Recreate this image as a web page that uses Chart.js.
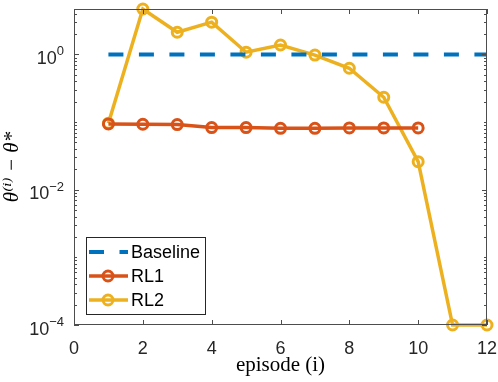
<!DOCTYPE html>
<html>
<head>
<meta charset="utf-8">
<script src="https://cdn.jsdelivr.net/npm/chart.js@4.4.1/dist/chart.umd.min.js"></script>
<style>
  html, body { margin: 0; padding: 0; background: #fff; }
  #wrap { width: 498px; height: 382px; }
</style>
</head>
<body>
<div id="wrap"><canvas id="chart"></canvas></div>
<script>
// values
var episodes = [1, 2, 3, 4, 5, 6, 7, 8, 9, 10, 11, 12];
var baselineX = [1, 12];
var baselineY = [1, 1];
var rl1Values = [0.094, 0.093, 0.092, 0.083, 0.083, 0.081, 0.081, 0.082, 0.082, 0.082];
var rl2Values = [0.096, 4.7, 2.13, 3.0, 1.08, 1.38, 0.98, 0.625, 0.233, 0.026, 1e-4, 1e-4];
var xTicks = [0, 2, 4, 6, 8, 10, 12];
var yTicks = [1e-4, 1e-2, 1];
var yMin = 1e-4, yMax = 4.7;

var blue = '#0072BD', red = '#D95319', gold = '#EDB120';
var axisColor = '#4d4d4d';
var sans = "'Liberation Sans', Arial, sans-serif";
var serif = "'Liberation Serif', 'DejaVu Serif', serif";

function pts(xs, ys) {
    return ys.map(function(v, i) { return { x: xs[i], y: v }; });
}

// box, inward ticks on all four sides, y labels with exponents, legend
var axesPlugin = {
    id: 'matlabAxes',
    afterDraw: function(chart) {
        var ctx = chart.ctx, a = chart.chartArea;
        var xs = chart.scales.x, ys = chart.scales.y;
        ctx.save();
        ctx.strokeStyle = axisColor;
        ctx.lineWidth = 1;
        ctx.strokeRect(a.left + 0.5, a.top + 0.5, a.right - a.left - 1, a.bottom - a.top - 1);
        ctx.beginPath();
        xTicks.forEach(function(t) {
            var px = Math.round(xs.getPixelForValue(t)) + 0.5;
            ctx.moveTo(px, a.bottom); ctx.lineTo(px, a.bottom - 5);
            ctx.moveTo(px, a.top); ctx.lineTo(px, a.top + 5);
        });
        for (var d = -4; d <= 0; d++) {
            for (var k = 1; k <= 9; k++) {
                var v = k * Math.pow(10, d);
                if (v < yMin || v > yMax) continue;
                var py = Math.round(ys.getPixelForValue(v)) + 0.5;
                var len = (k === 1 && d % 2 === 0) ? 5 : 3;
                ctx.moveTo(a.left, py); ctx.lineTo(a.left + len, py);
                ctx.moveTo(a.right, py); ctx.lineTo(a.right - len, py);
            }
        }
        ctx.stroke();

        // y tick labels 10^k
        ctx.fillStyle = '#262626';
        ctx.textBaseline = 'alphabetic';
        ctx.textAlign = 'left';
        yTicks.forEach(function(t) {
            var py = ys.getPixelForValue(t);
            var exp = String(Math.round(Math.log10(t))).replace('-', '\u2212');
            ctx.font = '13px ' + sans;
            var ew = ctx.measureText(exp).width;
            ctx.font = '18px ' + sans;
            var bw = ctx.measureText('10').width;
            var right = a.left - 10;
            ctx.fillText('10', right - ew - bw, py + 9.5);
            ctx.font = '13px ' + sans;
            ctx.fillText(exp, right - ew, py + 1);
        });

        // legend box in lower left
        var lx = 86, ly = 237, lw = 119, lh = 77;
        ctx.fillStyle = '#fff';
        ctx.fillRect(lx, ly, lw, lh);
        ctx.strokeStyle = '#262626';
        ctx.lineWidth = 1;
        ctx.strokeRect(lx + 0.5, ly + 0.5, lw, lh);
        chart.data.datasets.forEach(function(ds, i) {
            var cy = ly + 15 + i * 24;
            ctx.strokeStyle = ds.borderColor;
            ctx.lineWidth = ds.borderWidth;
            ctx.setLineDash(ds.borderDash || []);
            ctx.beginPath();
            ctx.moveTo(lx + 3, cy); ctx.lineTo(lx + 42, cy);
            ctx.stroke();
            ctx.setLineDash([]);
            if (ds.pointRadius > 0) {
                ctx.lineWidth = ds.pointBorderWidth;
                ctx.beginPath();
                ctx.arc(lx + 22, cy, ds.pointRadius, 0, Math.PI * 2);
                ctx.stroke();
            }
            ctx.fillStyle = '#000';
            ctx.font = '18px ' + sans;
            ctx.textBaseline = 'middle';
            ctx.fillText(ds.label, lx + 45, cy + 1);
        });
        ctx.restore();
    }
};

new Chart(document.getElementById('chart'), {
    type: 'line',
    data: {
        datasets: [{
            label: 'Baseline',
            data: pts(baselineX, baselineY),
            borderColor: blue,
            borderWidth: 4,
            borderDash: [15, 15.5],
            pointRadius: 0,
            clip: false
        }, {
            label: 'RL1',
            data: pts(episodes, rl1Values),
            borderColor: red,
            borderWidth: 3.5,
            pointRadius: 5,
            pointBorderWidth: 3,
            pointBorderColor: red,
            pointBackgroundColor: 'rgba(0,0,0,0)',
            clip: false
        }, {
            label: 'RL2',
            data: pts(episodes, rl2Values),
            borderColor: gold,
            borderWidth: 3.5,
            pointRadius: 5,
            pointBorderWidth: 3,
            pointBorderColor: gold,
            pointBackgroundColor: 'rgba(0,0,0,0)',
            clip: false
        }]
    },
    options: {
        responsive: true,
        maintainAspectRatio: false,
        animation: false,
        layout: { padding: { top: 9, right: 11, left: 0, bottom: 0 } },
        plugins: { legend: { display: false }, tooltip: { enabled: false } },
        elements: { line: { tension: 0 } },
        scales: {
            x: {
                type: 'linear',
                min: 0, max: 12,
                afterBuildTicks: function(s) { s.ticks = xTicks.map(function(v) { return { value: v }; }); },
                afterFit: function(s) { s.height = 57; s.paddingLeft = 0; s.paddingRight = 0; },
                grid: { display: false },
                border: { display: false },
                ticks: { color: '#262626', font: { family: sans, size: 18 }, padding: 5, maxRotation: 0 },
                title: { display: true, text: 'episode (i)', color: '#000', font: { family: serif, size: 21 }, padding: { top: 4 } }
            },
            y: {
                type: 'logarithmic',
                min: yMin, max: yMax,
                afterBuildTicks: function(s) { s.ticks = yTicks.map(function(v) { return { value: v }; }); },
                afterFit: function(s) { s.width = 74; s.paddingTop = 0; s.paddingBottom = 0; },
                grid: { display: false },
                border: { display: false },
                ticks: { display: false },
                title: { display: true, text: 'θ⁽ⁱ⁾ − θ*', color: '#000', font: { family: serif, size: 21, style: 'italic' }, padding: { top: 0, bottom: 0 } }
            }
        }
    },
    plugins: [axesPlugin]
});
</script>
</body>
</html>
